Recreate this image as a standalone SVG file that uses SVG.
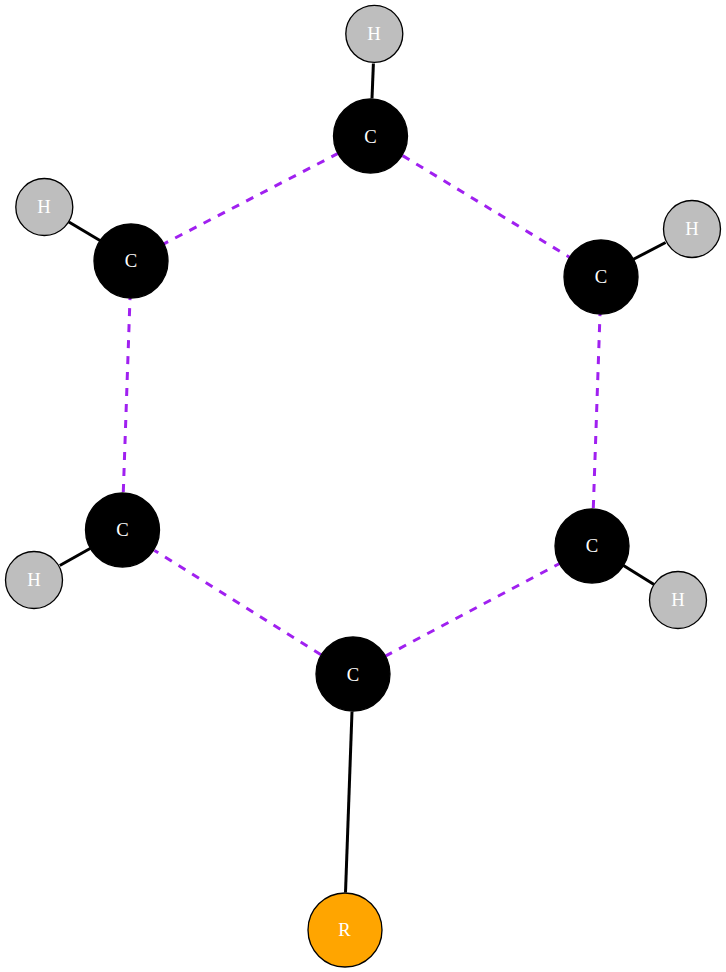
<svg xmlns="http://www.w3.org/2000/svg" width="726" height="972" viewBox="0 0 726 972">
<style>
.c{fill:#000;stroke:#000;stroke-width:1.33}
.h{fill:#bebebe;stroke:#000;stroke-width:1.33}
.r{fill:#ffa500;stroke:#000;stroke-width:1.33}
text{font-family:"Liberation Serif","Times New Roman",serif;font-size:18.67px;fill:#fff;text-anchor:middle}
.s{fill:none;stroke:#000;stroke-width:3}
.d{fill:none;stroke:#a020f0;stroke-width:3;stroke-dasharray:8 8}
</style>
<rect width="726" height="972" fill="#fff"/>
<g id="connectors">
<path class="s" d="M373.4 63.5L372 98.5"/>
<path class="s" d="M68.9 222L100.8 241"/>
<path class="s" d="M665.6 242.5L633 259.5"/>
<path class="s" d="M59.8 565.5L91 548"/>
<path class="s" d="M654 584.5L623.5 565.5"/>
<path class="s" d="M352 711.5L345.5 892.5"/>
<path class="d" d="M338.5 153.2L163 244.3"/>
<path class="d" d="M402.600 155.600L570 257.500"/>
<path class="d" d="M123.300 492L130 298"/>
<path class="d" d="M593.300 508L600 314"/>
<path class="d" d="M321 654.700L154.500 550.500"/>
<path class="d" d="M561.500 562.500L384.500 656.500"/>
</g>
<g id="H1"><circle class="h" cx="374.300" cy="33.800" r="28.500"/><text x="374" y="40">H</text></g>
<g id="C1"><circle class="c" cx="370.500" cy="136" r="37"/><text x="370.500" y="143">C</text></g>
<g id="H2"><circle class="h" cx="44.300" cy="207" r="28.500"/><text x="44" y="213">H</text></g>
<g id="C2"><circle class="c" cx="131" cy="261" r="37"/><text x="131" y="267">C</text></g>
<g id="H3"><circle class="h" cx="692" cy="229" r="28.500"/><text x="692" y="235">H</text></g>
<g id="C3"><circle class="c" cx="601" cy="277" r="37"/><text x="601" y="283">C</text></g>
<g id="C4"><circle class="c" cx="122.500" cy="530" r="37"/><text x="122.500" y="536">C</text></g>
<g id="H4"><circle class="h" cx="34" cy="580" r="28.500"/><text x="34" y="586">H</text></g>
<g id="C5"><circle class="c" cx="592" cy="546" r="37"/><text x="592" y="552">C</text></g>
<g id="H5"><circle class="h" cx="678" cy="600" r="28.500"/><text x="678" y="606">H</text></g>
<g id="C6"><circle class="c" cx="353" cy="674" r="37"/><text x="353" y="681">C</text></g>
<g id="R"><circle class="r" cx="345" cy="930" r="37"/><text x="344.500" y="936">R</text></g>
</svg>
